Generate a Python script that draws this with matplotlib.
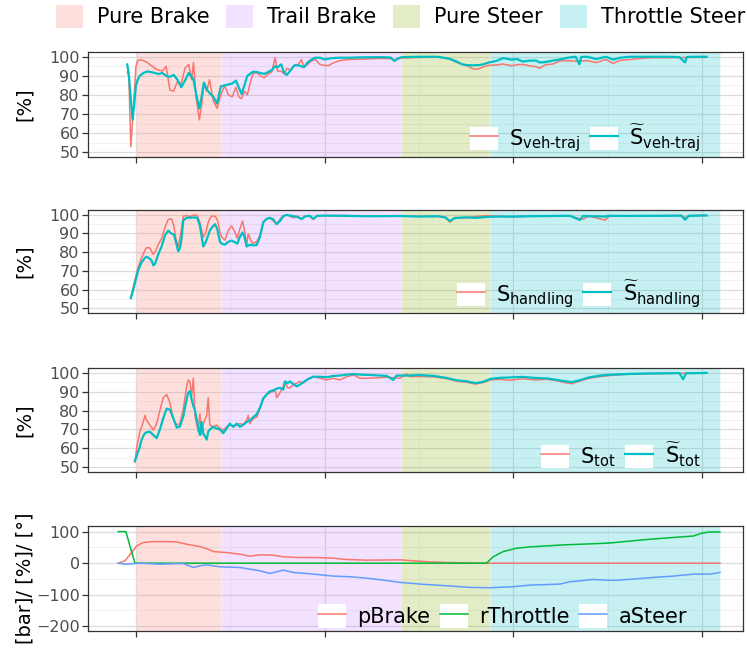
import matplotlib
matplotlib.use("Agg")
import matplotlib.pyplot as plt
from matplotlib.patches import Patch
from matplotlib.lines import Line2D
from matplotlib.legend_handler import HandlerTuple

plt.rcParams["font.family"] = "DejaVu Sans"
plt.rcParams["mathtext.fontset"] = "dejavusans"

RED = "#F8766D"
CYAN = "#00BFC4"
GREEN = "#00BA38"
BLUE = "#619CFF"

# driving phases (x in track units)
PHASES = ["Pure Brake", "Trail Brake", "Pure Steer", "Throttle Steer"]
PHASE_START = [0, 45.2, 140.6, 187.6]
PHASE_END = [45.2, 140.6, 187.6, 309.5]
PHASE_COLORS = ["#F8766D", "#C77CFF", "#7CAE00", "#00BFC4"]

# panel 1: S_veh-traj
X1 = [-4.6, -3.8, -2.7, -1.8, -0.8, 0, 1, 2, 4, 6,
      8, 10, 12, 14, 16, 18, 20, 22, 24, 26,
      28, 29.5, 30.5, 32, 33.6, 35, 36, 37.5, 39, 41,
      43, 45, 47, 49, 51, 53, 54.5, 56, 57.5, 59,
      60.5, 62, 64, 66, 68, 70, 72, 73.7, 75, 77,
      78.5, 80, 82, 84, 86, 87.8, 89, 91, 93, 95,
      97.5, 100, 102, 104, 108, 113, 120, 130, 135, 137,
      139, 141, 150, 160, 166, 170, 173, 176, 179, 182,
      184, 187, 191, 194.6, 199, 202, 205, 209, 212, 214,
      217, 221, 224.6, 229, 233, 235, 236, 239, 244, 249,
      253, 256.5, 262, 267, 274, 281, 288, 291, 292, 296,
      302.4]
S_VEH = [92, 90, 53, 66, 82, 95, 98, 98.5, 98, 97,
         95.5, 94, 93, 92.6, 95, 82.5, 82, 87, 86, 94,
         96, 88, 97, 78, 67, 76, 86, 82, 88, 77,
         73, 80, 85, 80, 79, 84, 79, 78, 82, 80,
         86, 91, 91.7, 90, 89, 91, 92, 99.5, 92.5, 92.5,
         91, 94, 93, 95.5, 96, 98.5, 94.5, 96, 97.8, 98.6,
         96, 95.5, 95.3, 96.5, 98, 98.6, 98.8, 99.1, 99, 98.2,
         99, 99.3, 99.6, 99.8, 99, 97, 96, 95, 93.5, 93.8,
         94.7, 95.5, 95.7, 96.2, 95.3, 95.8, 96, 95.2, 94.8, 94,
         95.8, 96.2, 97.8, 98, 97.7, 97.8, 97.8, 98, 96.9, 98.6,
         96.5, 98.1, 98.6, 99.1, 99.5, 99.5, 99.6, 99.6, 99.6, 99.7,
         99.7]
S_VEH_T = [96, 91, 78, 67, 76, 85, 88, 90, 91.5, 92.3,
           92, 91.5, 91, 91.5, 90, 89.5, 90.5, 88, 84, 87.5,
           91.5, 89.5, 88, 80, 73, 80, 86.5, 83, 81, 79,
           75.5, 84.5, 85, 85.5, 86, 87.5, 84, 80.5, 85, 90,
           91, 92.2, 92, 91.5, 91, 92, 93, 95, 94.5, 96,
           91.7, 90.5, 93, 95.5, 95.5, 95, 94.5, 97, 98.5, 99.5,
           99.5, 98.6, 99, 99.3, 99.5, 99.5, 99.7, 99.8, 99.6, 97.8,
           99.2, 99.8, 100, 100, 99, 97.5, 96, 95.6, 95.5, 95.7,
           96, 97, 97.8, 99.3, 98.5, 98.8, 97.5, 98, 98, 97,
           97.2, 98, 98.6, 99.5, 100, 96, 99.9, 100, 98.8, 100,
           98.5, 99.5, 100, 100, 100, 100, 99.8, 97, 99.9, 100,
           100]

# panel 2: S_handling
X2 = [-2.7, -1.5, -0.5, 1.2, 3, 4.8, 5.7, 7.4, 8.3, 9.2,
      10.1, 11.8, 13.6, 15.4, 17.1, 18.9, 20.1, 21.2, 22.4, 23.3,
      24.2, 25.1, 26.9, 28.6, 31.3, 32.5, 33.9, 35.7, 37.1, 38.3,
      39.2, 40.1, 41.9, 43.1, 44.5, 45.4, 47.2, 48.9, 50.7, 52.5,
      53.7, 55.1, 56.5, 57.4, 58.7, 59.5, 61, 62.2, 64, 65.7,
      67.5, 69.3, 71, 72.8, 74.6, 76.3, 78.1, 79.9, 81.6, 83.4,
      85.5, 87.8, 89.5, 92, 94, 96, 100, 110, 120, 130,
      140, 150, 160, 164, 166.4, 169, 175, 180, 186, 192,
      200, 210, 220, 230, 235.2, 237, 240, 248.5, 251, 260,
      270, 280, 289, 291, 293, 302.4]
S_HAND = [55.9, 61, 65.3, 72, 77, 81, 82.5, 82.2, 80.5, 78.8,
          80, 83.9, 87.3, 93.2, 97.5, 97.8, 94, 87, 83, 87.3,
          93, 99.2, 99.5, 99, 100, 99.5, 95.8, 88, 90.7, 95.8,
          98, 99.2, 99.2, 97.5, 91, 88.1, 86.4, 91.5, 94, 90.7,
          87.3, 92.4, 96.6, 92.4, 83.9, 89.8, 86, 84.7, 85.6, 89,
          95.8, 97.5, 98.3, 96.6, 94.9, 97.5, 99.5, 99.8, 99.2, 98.3,
          99.2, 97.8, 99.2, 99.2, 97.5, 99.2, 99.5, 99.5, 99.3, 99.2,
          99.2, 99.1, 99, 98.7, 96, 98.5, 98.3, 99, 99.5, 99.2,
          98.8, 99.3, 99.1, 99.3, 97.8, 97.6, 99.3, 97.1, 99.2, 99.3,
          99.2, 99.5, 99.6, 98.3, 99.4, 99.6]
S_HAND_T = [55.4, 59.5, 63.6, 70.3, 74.6, 77, 77.5, 76.5, 75.4, 72.9,
            73.7, 78.8, 83, 89, 91.5, 89.8, 89.5, 85.5, 80.5, 82,
            87.3, 97, 98.3, 98.4, 98.5, 98.3, 94.1, 83, 85.6, 89,
            91.5, 93, 94.9, 92.4, 85.6, 84.5, 84, 85.5, 86.2, 85.3,
            84.5, 88.1, 90.5, 88.5, 83, 83.5, 84, 83.6, 83.8, 88,
            96, 97.8, 98.3, 97.5, 94.9, 96.6, 99.2, 99.9, 99.5, 99.2,
            98.8, 97.6, 99, 99.5, 97.8, 99.4, 99.5, 99.4, 99.2, 99.2,
            99.3, 99, 99.2, 98.5, 96.6, 98.2, 98.6, 98.3, 98.8, 99,
            99, 99.2, 99.3, 99.4, 97.2, 99.3, 99.2, 99, 99.4, 99.3,
            99.4, 99.4, 99.5, 97.3, 99.4, 99.6]

# panel 3: S_tot
X3 = [-0.5, 0.4, 2.1, 3, 3.9, 4.8, 5.7, 7.4, 9.2, 11,
      12.7, 14.5, 16.3, 18, 19.8, 21.6, 23.3, 25.1, 26.9, 27.7,
      28.6, 29.5, 30.4, 31.3, 33, 33.9, 34.8, 35.7, 37.5, 38.3,
      39.2, 41, 42.8, 44.5, 46.3, 48, 49.8, 51.6, 53.4, 55.1,
      56.9, 58.7, 59.5, 60.4, 62.2, 64, 65.7, 67.5, 69.3, 71,
      72.8, 73.7, 74.6, 76.3, 78.1, 79, 80.3, 81.6, 83.4, 85.2,
      86.9, 88.7, 90.5, 92.2, 94, 97.5, 101, 104.6, 108.1, 111.7,
      115.2, 118.7, 124, 132.9, 136.4, 138, 139.9, 143.4, 145.2, 150,
      158, 165, 170, 175, 180, 184, 188, 193, 198, 205,
      212, 218, 223, 227, 231, 235, 240, 246, 252, 260,
      270, 280, 288, 290, 291.5, 302.4]
S_TOT = [52.6, 60.3, 68.8, 71.4, 74, 77.4, 74.8, 72.3, 69.7, 73.1,
         80, 86.8, 88.5, 84.2, 75.7, 72.3, 73.1, 80.8, 92.8, 96.2,
         95.4, 87.7, 97.1, 77.4, 68.8, 78.3, 67.1, 73.1, 77.4, 86.8,
         72.3, 71.4, 72.3, 70.5, 69.7, 71.4, 72.6, 71.4, 72.3, 73.1,
         72.5, 74.8, 77.4, 73.1, 75.7, 76.5, 80.8, 86, 88.5, 89.4,
         90.2, 91.1, 86.8, 89.4, 92.8, 95.4, 92, 92, 93.7, 94.5,
         95.4, 94.5, 96.2, 97.1, 97.9, 97.1, 96.2, 97.1, 96.2, 97.9,
         98.8, 97.1, 97.1, 97.6, 97.4, 97.2, 97.1, 99.3, 97.9, 98,
         97.8, 96.8, 95.5, 95, 94, 94.8, 96.2, 96.5, 96, 96.8,
         96.2, 96.5, 95.8, 94.8, 94.2, 95.5, 97, 98, 98.6, 99.2,
         99.5, 99.6, 99.7, 99.7, 99.7, 99.8]
S_TOT_T = [53.4, 56, 61, 64.6, 66.5, 68, 68.5, 68.8, 67.1, 65.4,
           70, 76, 81, 80.5, 76, 71, 71.5, 77, 86, 89.4,
           90.2, 86, 82.5, 80, 71.4, 67.1, 74, 68, 64.6, 68.8,
           70, 71.4, 70.5, 70, 68, 70.5, 73.1, 71.4, 73.1, 71.4,
           72.5, 74, 74.4, 74.8, 76.5, 78, 81.5, 86.5, 88.5, 90.2,
           90.7, 91.1, 91.6, 92, 91.1, 95.4, 94.5, 95.4, 94, 92.8,
           93.7, 95, 96.2, 97.1, 97.9, 97.9, 97.6, 98.3, 98.5, 99,
           99.3, 99, 98.8, 98.3, 96.2, 98.4, 98.5, 98.5, 98.5, 98.8,
           98.3, 97.2, 96, 95.5, 94.5, 95.2, 96.8, 97.3, 97.5, 97.8,
           97.2, 97, 96.2, 95.6, 95, 96, 97.5, 98.5, 99, 99.3,
           99.6, 99.7, 99.8, 96.5, 99.7, 99.9]

# panel 4: driver inputs
X_BRAKE = [-9.4, -5.8, -2.3, 0.4, 3.9, 9.2, 16.3, 21.6, 26.9, 33.9,
           38.3, 41, 48.1, 55.1, 60.4, 65.7, 72.8, 78.1, 86.9, 95.8,
           104.6, 111.7, 122.3, 140, 147, 155.8, 164.7, 182.3, 309.5]
P_BRAKE = [0, 7.4, 33.7, 54.7, 65.3, 68.4, 68.4, 67.4, 60, 52.6,
           44.2, 36.8, 33.7, 28.4, 22.1, 26.3, 25.3, 20, 17.9, 17.9,
           15.8, 11.6, 9.5, 10.5, 7.4, 4.2, 2.1, 0, 0]
X_THR = [-9.4, -5.3, -3.2, -0.5, 185.8, 189.3, 194.6, 201.7, 208.8, 217.6,
         226.4, 235.3, 244.1, 251.2, 256.5, 263.5, 270.6, 279.4, 288.3, 295.4,
         299.8, 304.2, 309.5]
R_THROTTLE = [100, 100, 55, 0, 0, 20, 36.8, 47.4, 51.6, 54.7,
              57.9, 60, 62, 64, 67, 71, 75, 79, 83, 86,
              95, 99, 99]
X_STEER = [-9.4, -4.9, 2.1, 12.7, 25.1, 30.4, 33.9, 37.5, 44.5, 55.1,
           65.7, 71, 78.1, 83.4, 90.5, 97.5, 104.6, 113.4, 122.3, 131,
           140, 150.6, 164.7, 177, 187.6, 200, 208.8, 224.7, 230, 242.3,
           252.9, 263.5, 274.1, 284.7, 295.4, 304.2, 309.5]
A_STEER = [0, -3.2, 0, -3.2, -1, -13.7, -8.4, -5.3, -11.6, -13.7,
           -24.2, -32.6, -22.1, -29.5, -32.6, -36.8, -41, -43.2, -47.4, -53.7,
           -61, -66.3, -71.6, -76.8, -77.9, -74.7, -69.5, -66.3, -59, -51.6,
           -54.7, -50.5, -45.3, -41, -34.7, -34.7, -29.5]


def prepara_assi(ax, yticks, yminor, ylim, ylabel):
    ax.set_xlim(-25.4, 321.7)
    ax.set_ylim(*ylim)
    ax.set_xticks([0, 100, 200, 300])
    ax.set_xticks([50, 150, 250], minor=True)
    ax.set_yticks(yticks)
    ax.set_yticks(yminor, minor=True)
    ax.tick_params(which="major", length=4, width=0.9, color="#333333",
                   labelsize=11.5, labelcolor="#4D4D4D", pad=2)
    ax.tick_params(which="minor", length=0)
    ax.tick_params(axis="x", labelbottom=False)
    ax.grid(which="major", color="#DCDCDC", lw=0.9)
    ax.grid(which="minor", color="#ECECEC", lw=0.5)
    ax.set_axisbelow(True)
    for s in ax.spines.values():
        s.set_color("#333333")
        s.set_linewidth(0.9)
    for start, end, col in zip(PHASE_START, PHASE_END, PHASE_COLORS):
        ax.axvspan(start, end, facecolor=col, alpha=0.22,
                   edgecolor="white", lw=0.8, zorder=0.6)
    ax.set_ylabel(ylabel, fontsize=14)
    ax.yaxis.set_label_coords(-0.082, 0.5)


def chiave(color, lw):
    return (Patch(facecolor="white", edgecolor="none"),
            Line2D([], [], color=color, lw=lw))


def legenda(ax, handles, labels, anchor):
    ax.legend(handles, labels, loc="lower right", bbox_to_anchor=anchor,
              ncol=len(handles), frameon=False, fontsize=15,
              handlelength=1.35, handleheight=1.35, handletextpad=0.55,
              columnspacing=0.45, borderaxespad=0, borderpad=0,
              handler_map={tuple: HandlerTuple(ndivide=1, pad=0)})


fig = plt.figure(figsize=(7.47, 6.54), dpi=100)

left, width = 0.1178, 0.8768
ax1 = fig.add_axes([left, 0.7599, width, 0.1606])
ax2 = fig.add_axes([left, 0.5214, width, 0.1575])
ax3 = fig.add_axes([left, 0.2783, width, 0.1590])
ax4 = fig.add_axes([left, 0.0352, width, 0.1606])

pct_ticks = [50, 60, 70, 80, 90, 100]
pct_minor = [55, 65, 75, 85, 95]
for ax in (ax1, ax2, ax3):
    prepara_assi(ax, pct_ticks, pct_minor, (47.5, 102.5), "[%]")
prepara_assi(ax4, [-200, -100, 0, 100], [-150, -50, 50], (-215, 118),
             "[bar]/ [%]/ [°]")

series = [
    (ax1, X1, S_VEH, S_VEH_T, "veh-traj"),
    (ax2, X2, S_HAND, S_HAND_T, "handling"),
    (ax3, X3, S_TOT, S_TOT_T, "tot"),
]
for ax, x, s, s_t, sub in series:
    ax.plot(x, s, color=RED, lw=1.1, zorder=3)
    ax.plot(x, s_t, color=CYAN, lw=1.6, zorder=4)
    labels = [r"$\mathrm{S}_\text{%s}$" % sub,
              r"$\widetilde{\mathrm{S}}_\text{%s}$" % sub]
    legenda(ax, [chiave(RED, 1.1), chiave(CYAN, 1.6)], labels, (0.935, 0.03))

ax4.plot(X_BRAKE, P_BRAKE, color=RED, lw=1.1, zorder=3)
ax4.plot(X_THR, R_THROTTLE, color=GREEN, lw=1.1, zorder=4)
ax4.plot(X_STEER, A_STEER, color=BLUE, lw=1.1, zorder=5)
legenda(ax4, [chiave(RED, 1.1), chiave(GREEN, 1.1), chiave(BLUE, 1.1)],
        ["pBrake", "rThrottle", "aSteer"], (0.915, 0.03))

phase_handles = [Patch(facecolor=c, alpha=0.22, edgecolor="none")
                 for c in PHASE_COLORS]
fig.legend(phase_handles, PHASES, loc="upper left",
           bbox_to_anchor=(0.075, 0.993), ncol=4, frameon=False, fontsize=15,
           handlelength=1.3, handleheight=1.35, handletextpad=0.67,
           columnspacing=0.8, borderpad=0, borderaxespad=0)

fig.savefig("out.png", dpi=100)
